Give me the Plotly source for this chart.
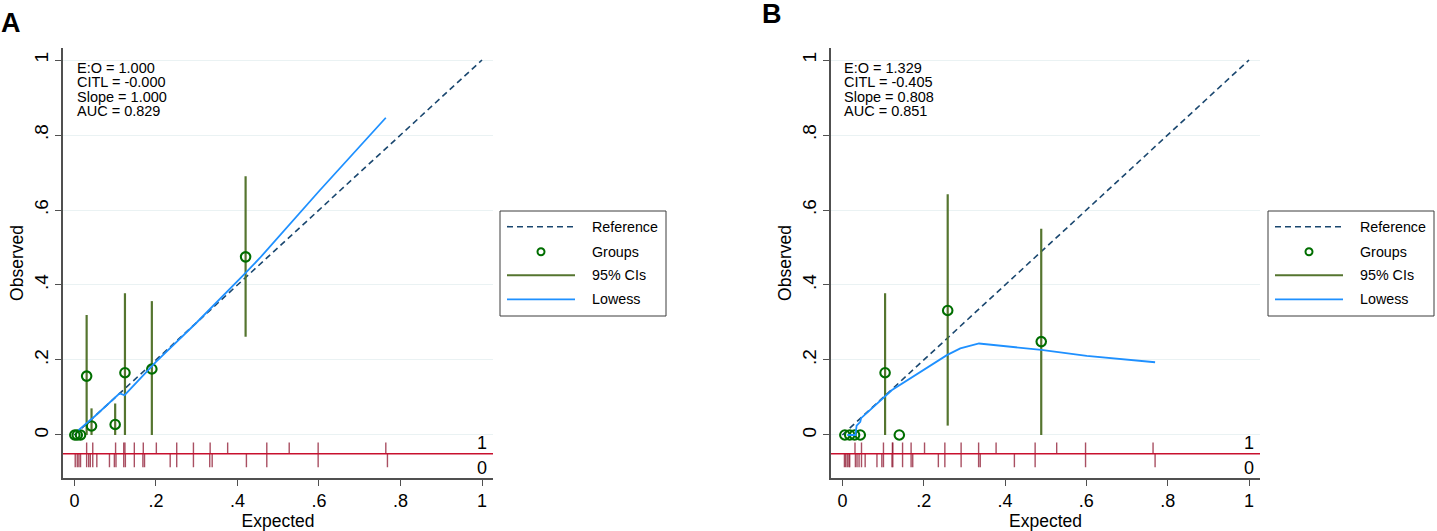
import plotly.graph_objects as go

# ---------------- data ----------------
# Panel A
grp_x_A = [0.001, 0.007, 0.015, 0.030, 0.042, 0.100, 0.124, 0.190, 0.420]
grp_y_A = [0.0, 0.0, 0.0, 0.157, 0.024, 0.028, 0.166, 0.176, 0.475]
ci_lo_A = [0.0, 0.0, 0.0, 0.0, 0.0, 0.0, 0.0, 0.0, 0.262]
ci_hi_A = [0.0, 0.0, 0.0, 0.320, 0.071, 0.084, 0.378, 0.357, 0.690]
low_x_A = [0.010, 0.050, 0.111, 0.123, 0.200, 0.300, 0.420, 0.455, 0.600, 0.764]
low_y_A = [0.013, 0.050, 0.111, 0.106, 0.195, 0.300, 0.432, 0.472, 0.650, 0.846]
rug1_A = [0.030, 0.045, 0.101, 0.121, 0.124, 0.147, 0.169, 0.201, 0.251, 0.292,
          0.333, 0.376, 0.472, 0.527, 0.598, 0.764]
rug0_A = [0.002, 0.007, 0.011, 0.015, 0.030, 0.035, 0.039, 0.045, 0.055, 0.086,
          0.098, 0.102, 0.121, 0.125, 0.147, 0.168, 0.172, 0.235, 0.251, 0.292,
          0.332, 0.338, 0.422, 0.472, 0.598, 0.768]
stats_A = ["E:O = 1.000", "CITL = -0.000", "Slope = 1.000", "AUC = 0.829"]

# Panel B
grp_x_B = [0.006, 0.018, 0.030, 0.044, 0.105, 0.140, 0.259, 0.489]
grp_y_B = [0.0, 0.0, 0.0, 0.0, 0.166, 0.0, 0.332, 0.249]
ci_lo_B = [0.0, 0.0, 0.0, 0.0, 0.0, 0.0, 0.025, 0.0]
ci_hi_B = [0.0, 0.0, 0.0, 0.0, 0.378, 0.0, 0.642, 0.550]
low_x_B = [0.012, 0.032, 0.035, 0.044, 0.046, 0.101, 0.122, 0.257, 0.290, 0.336,
           0.489, 0.601, 0.769]
low_y_B = [0.000, 0.000, 0.025, 0.035, 0.045, 0.100, 0.120, 0.213, 0.231, 0.244,
           0.227, 0.211, 0.194]
rug1_B = [0.031, 0.047, 0.101, 0.123, 0.124, 0.148, 0.169, 0.202, 0.252, 0.292,
          0.335, 0.378, 0.474, 0.527, 0.598, 0.764]
rug0_B = [0.005, 0.008, 0.012, 0.016, 0.018, 0.032, 0.036, 0.041, 0.047, 0.056,
          0.085, 0.097, 0.101, 0.122, 0.124, 0.148, 0.169, 0.173, 0.236, 0.252,
          0.292, 0.335, 0.339, 0.423, 0.474, 0.598, 0.769]
stats_B = ["E:O = 1.329", "CITL = -0.405", "Slope = 0.808", "AUC = 0.851"]

ref_line = [0, 1]
tick_vals = [0, 0.2, 0.4, 0.6, 0.8, 1]
tick_text = ["0", ".2", ".4", ".6", ".8", "1"]
legend_labels = ["Reference", "Groups", "95% CIs", "Lowess"]

# ---------------- style ----------------
FONT = "Liberation Sans, Arial, sans-serif"
C_REF = "rgb(26,71,111)"
C_GRP = "rgb(0,110,0)"
C_CI = "rgb(85,117,47)"
C_LOW = "rgb(30,144,255)"
C_RUGLINE = "rgb(200,16,46)"
C_RUG = "rgba(140,20,45,0.75)"
C_AXIS = "rgb(80,80,80)"
C_GRID = "rgb(234,242,243)"
W, H = 1437, 531

def px(x):
    return x / W

def py(y):
    return 1 - y / H

fig = go.Figure()

def add_panel(xa, ya, gx, gy, lo, hi, lx, ly, r1, r0):
    fig.add_trace(go.Scatter(x=ref_line, y=ref_line, mode="lines",
                             line=dict(color=C_REF, width=1.6, dash="6px,4px"),
                             xaxis=xa, yaxis=ya, showlegend=False))
    cx, cy = [], []
    for x, a, b in zip(gx, lo, hi):
        cx += [x, x, None]
        cy += [a, b, None]
    fig.add_trace(go.Scatter(x=cx, y=cy, mode="lines",
                             line=dict(color=C_CI, width=2.2),
                             xaxis=xa, yaxis=ya, showlegend=False))
    fig.add_trace(go.Scatter(x=gx, y=gy, mode="markers",
                             marker=dict(symbol="circle-open", size=9.5,
                                         color=C_GRP, line=dict(width=2.1, color=C_GRP)),
                             xaxis=xa, yaxis=ya, showlegend=False))
    fig.add_trace(go.Scatter(x=lx, y=ly, mode="lines",
                             line=dict(color=C_LOW, width=1.8),
                             xaxis=xa, yaxis=ya, showlegend=False))
    rx, ry = [], []
    for v in r1:
        rx += [v, v, None]
        ry += [-0.02, -0.05, None]
    for v in r0:
        rx += [v, v, None]
        ry += [-0.05, -0.086, None]
    fig.add_trace(go.Scatter(x=rx, y=ry, mode="lines",
                             line=dict(color=C_RUG, width=1.4),
                             xaxis=xa, yaxis=ya, showlegend=False))

add_panel("x", "y", grp_x_A, grp_y_A, ci_lo_A, ci_hi_A, low_x_A, low_y_A, rug1_A, rug0_A)
add_panel("x2", "y2", grp_x_B, grp_y_B, ci_lo_B, ci_hi_B, low_x_B, low_y_B, rug1_B, rug0_B)

xr = [-0.028, 1.027]
yr = [-0.1147, 1.032]

def xaxis(dom, anchor):
    return dict(domain=dom, range=xr, tickvals=tick_vals, ticktext=tick_text,
                anchor=anchor,
                showgrid=False, zeroline=False, showline=True, linecolor=C_AXIS,
                linewidth=1.5, ticks="outside", ticklen=6, tickcolor=C_AXIS,
                tickfont=dict(size=18, color="black", family=FONT),
                title=dict(text="Expected", font=dict(size=17.5, color="black", family=FONT),
                           standoff=1))

def yaxis(anchor):
    return dict(domain=[py(478), py(48)], range=yr, tickvals=tick_vals, ticktext=tick_text,
                anchor=anchor, showgrid=True, gridcolor=C_GRID, gridwidth=1,
                zeroline=False, showline=True, linecolor=C_AXIS, linewidth=1.5,
                ticks="outside", ticklen=6, tickcolor=C_AXIS, tickangle=-90,
                tickfont=dict(size=19, color="black", family=FONT),
                title=dict(text="Observed", font=dict(size=17.5, color="black", family=FONT),
                           standoff=3))

shapes = []
annotations = []

for k, (xa, ya, stats, off) in enumerate([("x", "y", stats_A, 0), ("x2", "y2", stats_B, 768)]):
    xd = xa + " domain"
    # red rug baseline
    shapes.append(dict(type="line", xref=xd, yref=ya, x0=0, x1=1, y0=-0.05, y1=-0.05,
                       line=dict(color=C_RUGLINE, width=1.6), layer="above"))
    # rug labels
    annotations.append(dict(x=1.0, y=-0.021, xref=xa, yref=ya, text="1", showarrow=False,
                            xanchor="center", yanchor="middle",
                            font=dict(size=18, color="black", family=FONT)))
    annotations.append(dict(x=1.0, y=-0.087, xref=xa, yref=ya, text="0", showarrow=False,
                            xanchor="center", yanchor="middle",
                            font=dict(size=18, color="black", family=FONT)))
    # stats text
    for i, s in enumerate(stats):
        annotations.append(dict(x=px(75 + off - (1 if k else 0)), y=py(68 + i * 14.4),
                                xref="paper", yref="paper", text=s, showarrow=False,
                                xanchor="left", yanchor="middle",
                                font=dict(size=14.5, color="black", family=FONT)))
    # manual legend
    bx0, bx1, by0, by1 = 500 + off, 666 + off, 211, 316
    shapes.append(dict(type="rect", xref="paper", yref="paper", x0=px(bx0), x1=px(bx1),
                       y0=py(by1), y1=py(by0), line=dict(color="rgb(60,60,60)", width=1),
                       fillcolor="white"))
    rows = [226.7, 251.7, 275.3, 299.3]
    sx0, sx1 = 507 + off, 575 + off
    shapes.append(dict(type="line", xref="paper", yref="paper", x0=px(sx0), x1=px(sx1),
                       y0=py(rows[0]), y1=py(rows[0]),
                       line=dict(color=C_REF, width=1.6, dash="6px,4px")))
    shapes.append(dict(type="circle", xref="paper", yref="paper",
                       xsizemode="pixel", ysizemode="pixel",
                       xanchor=px(541 + off), yanchor=py(rows[1]),
                       x0=-3.5, x1=3.5, y0=-3.5, y1=3.5,
                       line=dict(color=C_GRP, width=2)))
    shapes.append(dict(type="line", xref="paper", yref="paper", x0=px(sx0), x1=px(sx1),
                       y0=py(rows[2]), y1=py(rows[2]), line=dict(color=C_CI, width=2)))
    shapes.append(dict(type="line", xref="paper", yref="paper", x0=px(sx0), x1=px(sx1),
                       y0=py(rows[3]), y1=py(rows[3]), line=dict(color=C_LOW, width=1.8)))
    for lab, ry in zip(legend_labels, rows):
        annotations.append(dict(x=px(590 + off), y=py(ry), xref="paper", yref="paper",
                                text=lab, showarrow=False, xanchor="left", yanchor="middle",
                                font=dict(size=14.3, color="black", family=FONT)))

annotations.append(dict(x=px(-1), y=py(22.5), xref="paper", yref="paper", text="<b>A</b>",
                        showarrow=False, xanchor="left", yanchor="middle",
                        font=dict(size=27, color="black", family=FONT)))
annotations.append(dict(x=px(760), y=py(13.5), xref="paper", yref="paper", text="<b>B</b>",
                        showarrow=False, xanchor="left", yanchor="middle",
                        font=dict(size=27, color="black", family=FONT)))

fig.update_layout(
    width=W, height=H,
    margin=dict(l=0, r=0, t=0, b=0),
    paper_bgcolor="white", plot_bgcolor="white",
    showlegend=False,
    font=dict(family=FONT, color="black"),
    xaxis=xaxis([px(63), px(493)], "y"),
    yaxis=yaxis("x"),
    xaxis2=xaxis([px(831), px(1260)], "y2"),
    yaxis2=yaxis("x2"),
    shapes=shapes,
    annotations=annotations,
)

fig.write_html("out.html",
               config={"displayModeBar": False},
               post_script="document.body.style.margin='0';document.body.style.overflow='hidden';")
